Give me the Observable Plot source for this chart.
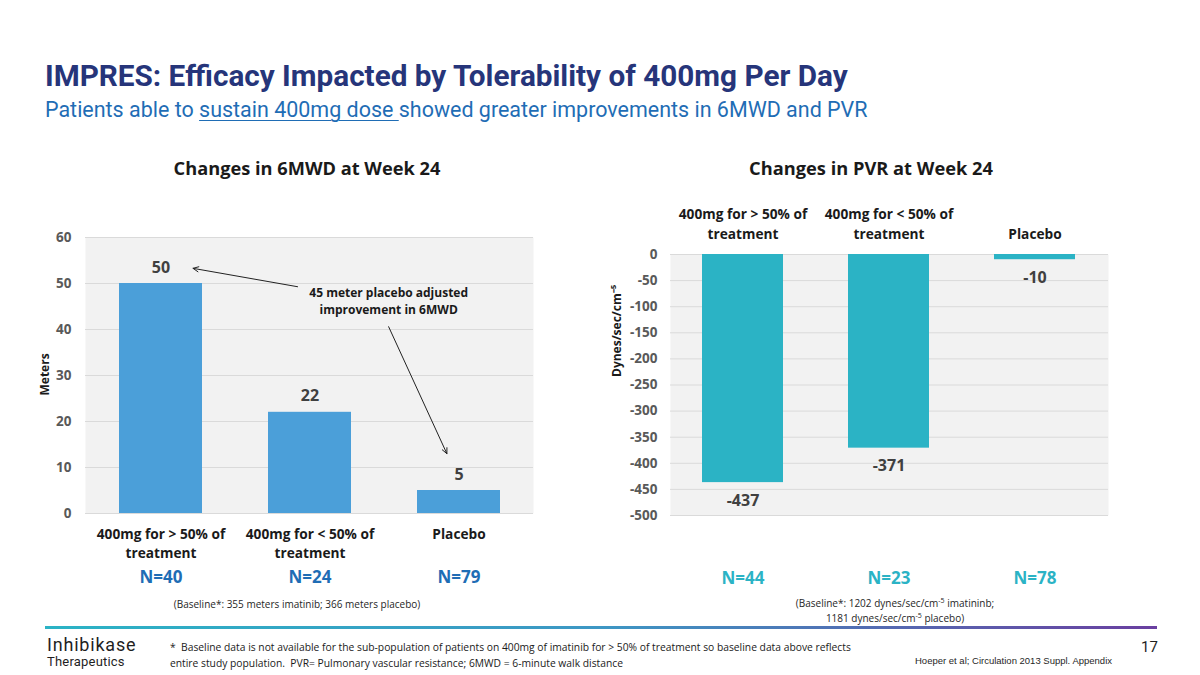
<!DOCTYPE html>
<html><head><meta charset="utf-8">
<script src="https://cdn.jsdelivr.net/npm/d3@7"></script>
<script src="https://cdn.jsdelivr.net/npm/@observablehq/plot@0.6"></script>
<style>
body{margin:0;background:#fff;}
#page{position:relative;width:1200px;height:675px;overflow:hidden;font-family:"Open Sans",sans-serif;}
.abs{position:absolute;white-space:nowrap;line-height:1;}
.c{transform:translateX(-50%);text-align:center;}
#title{left:45px;top:61px;font-family:Roboto,sans-serif;font-weight:700;font-size:28px;color:#26357a;}
#sub{left:45px;top:99px;font-family:Roboto,sans-serif;font-size:20px;color:#1f6db5;}
#sub u{text-decoration-thickness:1px;text-underline-offset:3px;}
.ct{font-weight:700;font-size:17px;color:#1a1a1a;top:159px;}
.base{font-size:10px;color:#262626;line-height:15px;}
.base sup{font-size:7px;line-height:0;vertical-align:4px;}
#line{left:45px;top:626px;width:1112px;height:3px;background:linear-gradient(90deg,#2bb3c5 0%,#3d97c4 50%,#6a3fa0 100%);}
#logo1{left:47px;top:636px;font-family:Roboto,sans-serif;font-size:18px;letter-spacing:0.8px;color:#1f1f1f;line-height:18px;}
#logo2{left:47px;top:655px;font-family:Roboto,sans-serif;font-size:13px;letter-spacing:0.2px;color:#1f1f1f;line-height:13px;}
#foot{left:170px;top:639px;font-size:10.5px;color:#1a1a1a;line-height:16px;}
#page17{left:1141px;top:640px;font-family:Roboto,sans-serif;font-size:15px;color:#1f1f1f;}
#ref{left:915px;top:656px;font-family:"Liberation Sans",Arial,sans-serif;font-size:9.5px;color:#1f1f1f;}
.plot{position:absolute;}
</style></head><body><div id="page">
<div class="abs" id="title">IMPRES: Efficacy Impacted by Tolerability of 400mg Per Day</div>
<div class="abs" id="sub">Patients able to <u>sustain 400mg dose </u>showed greater improvements in 6MWD and PVR</div>
<div class="abs ct c" id="ctL" style="left:307px">Changes in 6MWD at Week 24</div>
<div class="abs ct c" id="ctR" style="left:871px">Changes in PVR at Week 24</div>
<div id="leftHost" class="plot" style="left:0;top:200px"></div>
<div id="annHost" class="plot" style="left:0;top:200px"></div>
<div id="rightHost" class="plot" style="left:590px;top:180px"></div>
<div class="abs base c" style="left:297px;top:597px">(Baseline*: 355 meters imatinib; 366 meters placebo)</div>
<div class="abs base c" style="left:895px;top:596px">(Baseline*: 1202 dynes/sec/cm<sup>-5</sup> imatininb;<br>1181 dynes/sec/cm<sup>-5</sup> placebo)</div>
<div class="abs" id="line"></div>
<div class="abs" id="logo1">Inhibikase</div>
<div class="abs" id="logo2">Therapeutics</div>
<div class="abs" id="foot">*&nbsp; Baseline data is not available for the sub-population of patients on 400mg of imatinib for &gt; 50% of treatment so baseline data above reflects<br>entire study population.&nbsp; PVR= Pulmonary vascular resistance; 6MWD = 6-minute walk distance</div>
<div class="abs" id="page17">17</div>
<div class="abs" id="ref">Hoeper et al; Circulation 2013 Suppl. Appendix</div>
</div>
<script>
const categories = ["400mg for > 50% of treatment", "400mg for < 50% of treatment", "Placebo"];
const categoryLabels = ["400mg for > 50% of\ntreatment", "400mg for < 50% of\ntreatment", "Placebo"];
const mwdValues = [50, 22, 5];
const mwdN = [40, 24, 79];
const pvrValues = [-437, -371, -10];
const pvrN = [44, 23, 78];
const mwdTicks = [0, 10, 20, 30, 40, 50, 60];
const pvrTicks = [0, -50, -100, -150, -200, -250, -300, -350, -400, -450, -500];
const annotationText = ["45 meter placebo adjusted\nimprovement in 6MWD"];
// annotation anchors in data units (x: band index space 0..3, y: meters)
const annotationArrows = [
  {x1: 1.42, y1: 49.3, x2: 0.72, y2: 53.3},
  {x1: 2.03, y1: 40.6, x2: 2.42, y2: 13.0}
];

const labelOf = d => categoryLabels[categories.indexOf(d)];
const leftData = categories.map((c, i) => ({cat: c, v: mwdValues[i], n: mwdN[i]}));
const rightData = categories.map((c, i) => ({cat: c, v: pvrValues[i], n: pvrN[i]}));
const font = {fontFamily: "Open Sans", fontSize: "13px", fontWeight: 700, background: "transparent", overflow: "visible"};

const left = Plot.plot({
  width: 560, height: 380, marginLeft: 85, marginRight: 27, marginTop: 37, marginBottom: 67,
  style: font,
  x: {domain: categories, paddingInner: 0.444, paddingOuter: 0.222, label: null},
  y: {domain: [0, 60], label: null},
  marks: [
    Plot.frame({fill: "#f2f2f2", stroke: null}),
    Plot.gridY(mwdTicks, {stroke: "#dadada", strokeOpacity: 1}),
    Plot.barY(leftData, {x: "cat", y: "v", fill: "#4b9fd9"}),
    Plot.text(leftData, {x: "cat", y: "v", text: d => String(d.v), dy: -16, fontSize: 16, fontWeight: 700, fill: "#404040"}),
    Plot.text(leftData, {x: "cat", text: d => "N=" + d.n, frameAnchor: "bottom", dy: 69, fontSize: 17, fontWeight: 700, fill: "#1f6db5"}),
    Plot.axisX({tickSize: 0, tickPadding: 12, fontSize: 13.7, fill: "#1a1a1a", tickFormat: labelOf, lineHeight: 1.4}),
    Plot.axisY({ticks: mwdTicks, tickSize: 0, tickPadding: 14, fontSize: 13.5, fill: "#595959", label: null, tickFormat: d => String(d)}),
    Plot.text(["Meters"], {frameAnchor: "left", rotate: -90, dx: -40, dy: 20, fontSize: 12, fontWeight: 700, fill: "#1a1a1a"})
  ]
});
document.getElementById("leftHost").append(left);

const ann = Plot.plot({
  width: 560, height: 380, marginLeft: 85, marginRight: 27, marginTop: 37, marginBottom: 67,
  style: font, axis: null,
  x: {type: "linear", domain: [0, 3]},
  y: {domain: [0, 60]},
  marks: [
    Plot.text(annotationText, {x: 2.03, y: 46.4, fontSize: 12, fontWeight: 700, fill: "#1a1a1a", lineHeight: 1.4}),
    Plot.arrow(annotationArrows, {x1: "x1", y1: "y1", x2: "x2", y2: "y2", stroke: "#222", strokeWidth: 1, headLength: 9, headAngle: 50})
  ]
});
document.getElementById("annHost").append(ann);

const right = Plot.plot({
  width: 560, height: 400, marginLeft: 80, marginRight: 42, marginTop: 74, marginBottom: 65,
  style: font,
  x: {domain: categories, paddingInner: 0.445, paddingOuter: 0.222, label: null},
  y: {domain: [-500, 0], label: null},
  marks: [
    Plot.frame({fill: "#f2f2f2", stroke: null}),
    Plot.gridY(pvrTicks, {stroke: "#dadada", strokeOpacity: 1}),
    Plot.barY(rightData, {x: "cat", y: "v", fill: "#2bb3c5"}),
    Plot.text(rightData, {x: "cat", y: "v", text: d => String(d.v), dy: 18, fontSize: 16, fontWeight: 700, fill: "#404040"}),
    Plot.text(rightData, {x: "cat", text: d => "N=" + d.n, frameAnchor: "bottom", dy: 68, fontSize: 17, fontWeight: 700, fill: "#2bb3c5"}),
    Plot.axisX({anchor: "top", tickSize: 0, tickPadding: 16, fontSize: 13.7, fill: "#1a1a1a", tickFormat: labelOf, lineHeight: 1.4}),
    Plot.axisY({ticks: pvrTicks, tickSize: 0, tickPadding: 13, fontSize: 13.5, fill: "#595959", label: null, tickFormat: d => String(d)}),
    Plot.text(["Dynes/sec/cm\u207B\u2075"], {frameAnchor: "left", rotate: -90, dx: -53, dy: -8, fontSize: 12, fontWeight: 700, fill: "#1a1a1a"})
  ]
});
document.getElementById("rightHost").append(right);

// fit HTML texts to the reference widths
function fitWidth(id, target) {
  const el = document.getElementById(id);
  const w = el.getBoundingClientRect().width;
  const fs = parseFloat(getComputedStyle(el).fontSize);
  el.style.fontSize = (fs * target / w) + "px";
}
fitWidth("title", 803);
fitWidth("sub", 823);
fitWidth("ctL", 267);
fitWidth("ctR", 244);
fitWidth("foot", 682);
</script>
</body></html>
